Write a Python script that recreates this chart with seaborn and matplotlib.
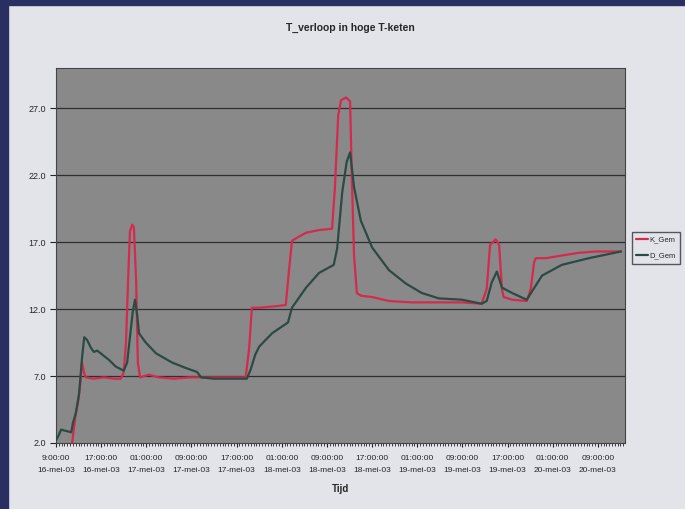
"""T_verloop in hoge T-keten: K_Gem and D_Gem temperature over time (16-20 mei 2003)."""
import numpy as np
import pandas as pd
import matplotlib
matplotlib.use("Agg")
import matplotlib.pyplot as plt
from matplotlib.patches import Rectangle
from matplotlib.ticker import MultipleLocator, FormatStrFormatter
import seaborn as sns

# hours since 16-mei-03 9:00:00
k_hours = [2.7, 3.0, 3.5, 3.9, 4.3, 4.6, 5.0, 5.3, 6.7, 8.5, 10.3, 11.5, 12.0, 12.4,
           12.8, 13.1, 13.5, 13.8, 14.2, 14.5, 14.9, 15.6, 16.5, 18.2, 20.9, 23.6,
           25.3, 28.0, 30.6, 33.6, 34.2, 34.7, 36.0, 38.6, 40.7, 41.3, 41.8, 43.0,
           44.3, 46.6, 48.9, 49.4, 50.0, 50.5, 51.4, 52.1, 52.4, 52.8, 53.3, 54.0,
           56.0, 59.0, 63.0, 67.8, 71.9, 75.4, 76.3, 76.9, 77.9, 78.5, 79.0, 79.3,
           80.8, 83.4, 84.1, 84.7, 85.0, 86.8, 89.6, 92.6, 95.6, 100.1]
k_gem = [1.5, 2.5, 4.2, 5.0, 6.5, 8.0, 7.2, 6.9, 6.8, 6.9, 6.8, 6.8, 7.3, 9.5,
         14.5, 17.8, 18.3, 18.1, 14.0, 8.0, 6.9, 7.0, 7.1, 6.9, 6.8, 6.9,
         6.9, 6.9, 6.9, 6.9, 9.0, 12.1, 12.1, 12.2, 12.3, 15.0, 17.1, 17.4,
         17.7, 17.9, 18.0, 21.0, 26.5, 27.6, 27.8, 27.5, 22.0, 16.0, 13.2, 13.0,
         12.9, 12.6, 12.5, 12.5, 12.5, 12.4, 13.5, 16.8, 17.2, 16.8, 13.5, 12.9,
         12.7, 12.6, 13.5, 15.5, 15.8, 15.8, 16.0, 16.2, 16.3, 16.3]

d_hours = [0.0, 0.5, 0.9, 1.8, 2.7, 3.0, 3.5, 4.1, 4.6, 5.0, 5.5, 6.2, 6.7, 7.3,
           8.2, 9.4, 10.6, 12.0, 12.6, 13.1, 13.6, 14.0, 14.4, 14.7, 15.9, 17.7,
           20.6, 23.0, 25.0, 25.7, 28.0, 30.6, 33.8, 34.5, 35.3, 36.0, 38.3, 41.1,
           41.8, 44.3, 46.6, 49.2, 49.8, 50.7, 51.5, 52.1, 52.8, 54.0, 56.0, 59.0,
           62.0, 64.8, 67.8, 71.9, 75.4, 76.3, 77.2, 78.1, 79.0, 80.8, 83.4, 84.3,
           86.1, 89.6, 94.4, 100.1]
d_gem = [2.2, 2.6, 3.0, 2.9, 2.8, 3.5, 4.2, 5.7, 8.3, 9.9, 9.7, 9.1, 8.8, 8.9,
         8.6, 8.2, 7.7, 7.4, 8.0, 9.9, 11.8, 12.7, 11.5, 10.2, 9.5, 8.7,
         8.0, 7.6, 7.3, 6.9, 6.8, 6.8, 6.8, 7.5, 8.6, 9.2, 10.2, 11.0,
         12.1, 13.6, 14.7, 15.3, 16.5, 20.7, 23.0, 23.7, 21.1, 18.6, 16.6, 14.9,
         13.9, 13.2, 12.8, 12.7, 12.4, 12.6, 14.0, 14.8, 13.6, 13.2, 12.7, 13.3,
         14.5, 15.3, 15.8, 16.3]

y_ticks = [2.0, 7.0, 12.0, 17.0, 22.0, 27.0]
tick_hours = list(range(0, 97, 8))
tick_labels = ["9:00:00\n16-mei-03", "17:00:00\n16-mei-03", "01:00:00\n17-mei-03",
               "09:00:00\n17-mei-03", "17:00:00\n17-mei-03", "01:00:00\n18-mei-03",
               "09:00:00\n18-mei-03", "17:00:00\n18-mei-03", "01:00:00\n19-mei-03",
               "09:00:00\n19-mei-03", "17:00:00\n19-mei-03", "01:00:00\n20-mei-03",
               "09:00:00\n20-mei-03"]

BG = "#e3e4ea"
NAVY = "#2a2f62"
PLOT_BG = "#898989"
RED = "#d42a4e"
GREEN = "#2c4a44"

sns.set_style("white")
plt.rcParams["font.family"] = ["Liberation Sans Narrow", "Liberation Sans", "DejaVu Sans"]

df = pd.concat([
    pd.DataFrame({"uur": k_hours, "temp": k_gem, "reeks": "K_Gem"}),
    pd.DataFrame({"uur": d_hours, "temp": d_gem, "reeks": "D_Gem"}),
])

fig = plt.figure(figsize=(6.85, 5.09), dpi=100, facecolor=BG)
ax = fig.add_axes([56 / 685, 1 - 443 / 509, 569 / 685, 375 / 509])
ax.set_facecolor(PLOT_BG)

for y in y_ticks[1:]:
    ax.axhline(y, color="#2e2e2e", lw=0.9, zorder=1)

sns.lineplot(data=df, x="uur", y="temp", hue="reeks", palette={"K_Gem": RED, "D_Gem": GREEN},
             estimator=None, sort=False, lw=1.6, ax=ax, legend=False, zorder=3)

ax.set_xlim(0, 100.8)
ax.set_ylim(2, 30)
ax.set_yticks(y_ticks)
ax.yaxis.set_major_formatter(FormatStrFormatter("%.1f"))
ax.set_xticks(tick_hours)
ax.set_xticklabels(tick_labels, fontsize=6, linespacing=1.9)
ax.xaxis.set_minor_locator(MultipleLocator(0.5))
ax.tick_params(axis="y", labelsize=6.5, length=4, direction="out", left=True, color="#222")
ax.tick_params(axis="x", which="major", length=3, direction="out", bottom=True, color="#222", pad=6)
ax.tick_params(axis="x", which="minor", length=2, direction="out", bottom=True, color="#222")
for s in ax.spines.values():
    s.set_color("#444")
    s.set_linewidth(0.8)

ax.set_xlabel("Tijd", fontsize=7, fontweight="bold", labelpad=7)
ax.set_ylabel("Temperatuur", fontsize=7, fontweight="bold", labelpad=14)
fig.text(0.511, 0.945, "T_verloop in hoge T-keten", ha="center", va="center",
         fontsize=7.5, fontweight="bold")

handles = [plt.Line2D([], [], color=RED, lw=1.6), plt.Line2D([], [], color=GREEN, lw=1.6)]
fig.legend(handles, ["K_Gem", "D_Gem"], loc="upper left",
           bbox_to_anchor=(630 / 685, 1 - 230 / 509), fontsize=5.5, frameon=True,
           fancybox=False, edgecolor="#333", facecolor=BG, handlelength=1.6,
           handletextpad=0.15, borderpad=0.6, borderaxespad=0.2, labelspacing=1.1)

# navy slide border
fig.patches.append(Rectangle((0, 0), 8 / 685, 1, transform=fig.transFigure, color=NAVY, zorder=10))
fig.patches.append(Rectangle((0, 1 - 5 / 509), 1, 5 / 509, transform=fig.transFigure, color=NAVY, zorder=10))

fig.savefig("out.png", dpi=100, facecolor=BG)
